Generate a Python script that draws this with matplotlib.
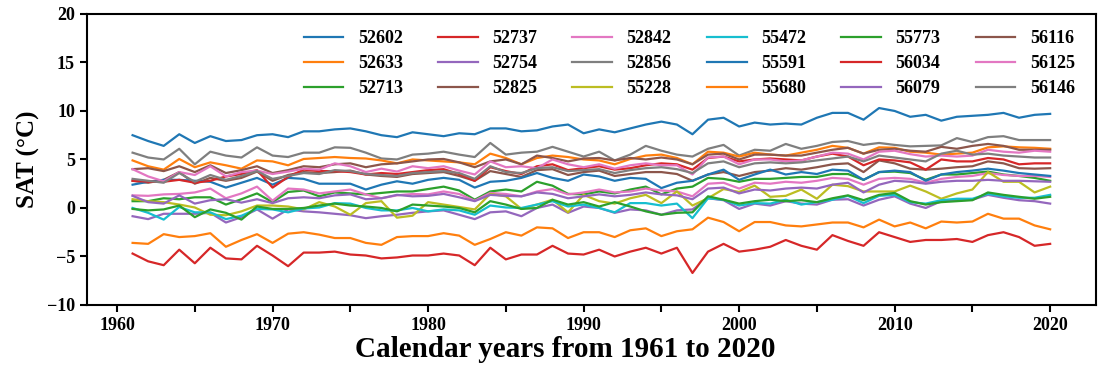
import numpy as np
import matplotlib
matplotlib.use('Agg')
import matplotlib.pyplot as plt
from matplotlib.ticker import MultipleLocator

plt.rcParams['font.family'] = ['Liberation Serif', 'DejaVu Serif']
plt.rcParams['font.weight'] = 'bold'

years = list(range(1961, 2021))

stations = ['52602', '52633', '52713', '52737', '52754', '52825', '52842', '52856', '55228',
            '55472', '55591', '55680', '55773', '56034', '56079', '56116', '56125', '56146']

s52602 = [7.5, 6.9, 6.4, 7.6, 6.7, 7.4, 6.9, 7.0, 7.5, 7.6,
          7.3, 7.9, 7.9, 8.1, 8.2, 7.9, 7.5, 7.3, 7.8, 7.6,
          7.4, 7.7, 7.6, 8.2, 8.2, 7.9, 8.0, 8.4, 8.6, 7.7,
          8.1, 7.8, 8.2, 8.6, 8.9, 8.6, 7.6, 9.1, 9.3, 8.4,
          8.8, 8.6, 8.7, 8.6, 9.3, 9.8, 9.8, 9.1, 10.3, 10.0,
          9.4, 9.6, 9.0, 9.4, 9.5, 9.6, 9.8, 9.3, 9.6, 9.7]
s52633 = [-3.6, -3.7, -2.7, -3.0, -2.9, -2.6, -4.0, -3.3, -2.7, -3.6,
          -2.65, -2.5, -2.75, -3.1, -3.1, -3.6, -3.8, -3.0, -2.9, -2.9,
          -2.6, -2.85, -3.8, -3.2, -2.5, -2.85, -2.0, -2.1, -3.1, -2.5,
          -2.5, -3.0, -2.3, -2.1, -2.9, -2.4, -2.2, -1.0, -1.45, -2.4,
          -1.45, -1.45, -1.8, -1.9, -1.7, -1.5, -1.5, -2.0, -1.2, -1.9,
          -1.5, -2.1, -1.4, -1.5, -1.4, -0.6, -1.1, -1.1, -1.8, -2.2]
s52713 = [0.7, 0.7, 1.0, 0.9, 1.1, 1.1, 0.35, 0.9, 1.5, 0.6,
          1.65, 1.8, 1.2, 1.6, 1.5, 1.4, 1.55, 1.7, 1.7, 1.95,
          2.2, 1.8, 0.85, 1.7, 1.9, 1.7, 2.7, 2.3, 1.45, 1.4,
          1.7, 1.5, 1.9, 2.2, 1.4, 2.0, 2.2, 3.1, 3.0, 2.7,
          3.0, 3.0, 3.1, 3.2, 3.2, 3.5, 3.5, 2.9, 3.7, 3.75,
          3.6, 2.9, 3.45, 3.45, 3.6, 3.75, 3.45, 3.3, 3.1, 2.8]
s52737 = [-4.7, -5.5, -5.9, -4.3, -5.7, -4.1, -5.2, -5.3, -3.9, -4.9,
          -6.0, -4.6, -4.6, -4.5, -4.8, -4.9, -5.2, -5.1, -4.9, -4.9,
          -4.7, -4.9, -5.9, -4.1, -5.3, -4.8, -4.8, -3.9, -4.7, -4.8,
          -4.3, -5.0, -4.5, -4.1, -4.7, -4.1, -6.7, -4.5, -3.7, -4.5,
          -4.3, -4.0, -3.3, -3.9, -4.3, -2.8, -3.4, -3.9, -2.5, -3.0,
          -3.5, -3.3, -3.3, -3.2, -3.5, -2.8, -2.5, -3.0, -3.9, -3.7]
s52754 = [-0.85, -1.15, -0.6, -0.6, -0.6, -0.5, -1.5, -0.95, -0.15, -1.1,
          -0.15, -0.35, -0.45, -0.6, -0.75, -1.05, -0.85, -0.7, -0.5, -0.35,
          -0.25, -0.7, -1.15, -0.45, -0.35, -0.85, 0.0, 0.35, -0.5, 0.15,
          0.0, -0.5, -0.15, -0.25, -0.7, -0.25, -0.15, 1.0, 0.8, -0.1,
          0.45, 0.25, 0.7, 0.45, 0.35, 0.85, 0.9, 0.25, 0.85, 1.2,
          0.45, 0.0, 0.7, 0.8, 0.85, 1.35, 1.05, 0.8, 0.7, 0.45]
s52825 = [2.8, 2.6, 2.9, 3.7, 2.5, 3.1, 2.8, 3.1, 3.75, 2.8,
          3.4, 3.7, 3.6, 3.7, 3.85, 3.45, 3.3, 3.2, 3.5, 3.6,
          3.7, 3.3, 2.8, 3.8, 3.5, 3.2, 3.9, 4.0, 3.4, 3.7,
          3.85, 3.3, 3.5, 3.7, 3.7, 3.5, 2.8, 3.45, 3.7, 3.3,
          3.7, 3.85, 4.1, 3.95, 4.2, 4.5, 4.6, 3.7, 4.9, 4.6,
          4.05, 3.95, 4.05, 4.2, 4.3, 4.8, 4.6, 4.1, 4.05, 4.1]
s52842 = [1.3, 1.25, 1.4, 1.45, 1.6, 2.0, 1.0, 1.5, 2.2, 0.75,
          2.0, 1.9, 1.5, 1.7, 1.9, 1.4, 1.0, 1.3, 1.44, 1.4,
          1.7, 1.44, 0.75, 1.55, 1.44, 1.2, 1.7, 1.95, 1.4, 1.6,
          1.9, 1.6, 1.7, 2.0, 1.8, 1.7, 1.2, 2.5, 2.6, 2.0,
          2.6, 2.5, 2.7, 2.6, 2.8, 3.1, 3.0, 2.4, 3.0, 3.1,
          3.0, 2.6, 3.0, 3.2, 3.3, 3.6, 3.4, 3.3, 3.3, 3.2]
s52856 = [5.7, 5.2, 5.0, 6.1, 4.5, 5.8, 5.4, 5.2, 6.25, 5.4,
          5.25, 5.7, 5.7, 6.25, 6.2, 5.7, 5.1, 5.0, 5.5, 5.6,
          5.8, 5.5, 5.25, 6.7, 5.5, 5.7, 5.8, 6.3, 5.8, 5.3,
          5.8, 4.9, 5.5, 6.4, 5.9, 5.5, 5.3, 6.1, 6.5, 5.4,
          6.0, 5.9, 6.6, 6.1, 6.4, 6.8, 6.9, 6.5, 6.7, 6.5,
          6.35, 6.4, 6.45, 7.2, 6.8, 7.3, 7.4, 7.0, 7.0, 7.0]
s55228 = [0.9, 0.7, 0.6, 0.35, 0.05, -0.7, -0.75, -0.35, 0.25, 0.25,
          0.15, -0.15, 0.6, 0.15, -0.7, 0.5, 0.7, -1.0, -0.8, 0.6,
          0.35, 0.1, -0.15, 1.45, 1.2, -0.1, 0.35, 0.85, -0.45, 1.35,
          0.7, 0.45, 1.0, 1.35, 0.5, 1.7, 0.25, 1.0, 1.95, 1.65,
          2.3, 1.15, 1.25, 1.9, 0.95, 2.4, 2.25, 1.7, 1.7, 1.7,
          2.3, 1.7, 0.95, 1.5, 1.9, 3.7, 2.7, 2.7, 1.6, 2.2]
s55472 = [0.0, -0.5, -1.2, 0.1, -0.45, -0.45, -1.15, -0.8, -0.1, -0.15,
          -0.45, -0.05, 0.05, 0.5, 0.45, 0.0, -0.25, -0.25, 0.0, -0.35,
          -0.15, -0.25, -0.7, 0.25, 0.05, 0.0, 0.35, 0.7, 0.15, 0.35,
          0.0, -0.45, 0.5, 0.5, 0.25, 0.45, -1.05, 1.0, 0.85, 0.25,
          0.5, 0.45, 0.85, 0.35, 0.6, 0.85, 1.25, 0.5, 1.25, 1.35,
          0.6, 0.45, 0.8, 0.95, 0.95, 1.45, 1.2, 1.05, 1.05, 1.35]
s55591 = [2.4, 2.7, 2.9, 2.9, 2.8, 2.7, 2.1, 2.6, 3.1, 2.4,
          3.1, 3.0, 2.5, 2.5, 2.5, 1.9, 2.4, 2.75, 2.5, 2.9,
          3.1, 2.9, 2.1, 2.7, 2.8, 3.1, 3.6, 3.1, 2.8, 3.45,
          3.25, 2.8, 3.1, 3.0, 2.05, 2.6, 2.8, 3.45, 3.95, 2.9,
          3.45, 3.95, 3.45, 3.7, 3.5, 3.95, 3.85, 2.9, 3.7, 3.85,
          3.7, 2.8, 3.45, 3.7, 3.85, 4.05, 3.85, 3.6, 3.45, 3.3]
s55680 = [4.9, 4.3, 3.95, 5.05, 4.2, 4.7, 4.4, 4.05, 4.9, 4.8,
          4.4, 5.05, 5.15, 5.25, 5.15, 5.1, 4.9, 4.6, 5.0, 4.9,
          4.8, 4.7, 4.5, 5.6, 5.15, 4.5, 5.15, 5.4, 5.25, 5.0,
          4.9, 4.5, 5.05, 5.4, 5.5, 5.15, 4.5, 5.8, 5.7, 5.3,
          5.7, 5.5, 5.4, 5.7, 6.0, 6.4, 6.2, 5.6, 6.25, 6.2,
          5.8, 5.7, 5.5, 5.6, 5.7, 6.25, 6.35, 6.25, 6.2, 6.1]
s55773 = [-0.1, -0.25, -0.15, 0.25, -0.95, -0.15, -0.5, -1.2, 0.15, -0.1,
          -0.1, 0.0, 0.25, 0.45, 0.25, 0.15, 0.0, -0.35, 0.35, 0.25,
          0.15, 0.0, -0.45, 0.7, 0.35, -0.1, 0.0, 0.85, 0.35, 0.6,
          0.15, 0.6, 0.15, -0.35, -0.7, -0.5, -0.45, 1.2, 0.85, 0.45,
          0.7, 0.85, 0.7, 0.8, 0.6, 1.0, 1.3, 0.8, 1.35, 1.55,
          0.7, 0.35, 0.6, 0.7, 0.8, 1.6, 1.35, 1.15, 0.95, 1.15]
s56034 = [2.8, 2.7, 2.7, 2.9, 2.6, 2.8, 3.25, 3.5, 3.9, 2.1,
          3.2, 3.95, 3.8, 3.8, 3.7, 3.45, 3.6, 3.5, 3.7, 3.9,
          4.0, 3.5, 2.8, 4.2, 3.8, 3.5, 4.3, 4.5, 3.9, 4.1,
          4.3, 3.95, 4.1, 4.4, 4.6, 4.5, 3.95, 5.15, 5.3, 4.8,
          5.0, 5.1, 5.0, 4.9, 5.3, 5.6, 5.3, 4.4, 5.0, 4.9,
          4.7, 3.95, 5.0, 4.8, 4.8, 5.15, 5.0, 4.5, 4.6, 4.6]
s56079 = [1.25, 0.6, 0.45, 1.3, 0.45, 0.8, 0.9, 0.55, 0.9, 0.5,
          1.0, 1.1, 1.0, 1.3, 1.4, 0.9, 1.0, 1.35, 1.2, 1.25,
          1.45, 1.1, 0.7, 1.35, 1.25, 1.2, 1.6, 1.45, 1.0, 1.2,
          1.4, 1.2, 1.35, 1.6, 1.4, 1.3, 0.9, 2.0, 2.1, 1.5,
          1.9, 1.8, 2.0, 2.1, 2.0, 2.4, 2.6, 1.6, 2.4, 2.8,
          2.7, 2.5, 2.7, 2.8, 2.8, 2.9, 2.8, 2.8, 2.75, 2.7]
s56116 = [4.0, 4.1, 3.8, 4.3, 3.7, 4.4, 3.6, 3.9, 4.3, 3.6,
          3.9, 4.3, 4.2, 4.5, 4.6, 4.2, 4.5, 4.6, 4.8, 5.0,
          5.05, 4.7, 4.2, 4.8, 5.0, 4.5, 5.4, 5.15, 4.8, 5.1,
          5.15, 4.9, 5.15, 5.0, 5.2, 5.0, 4.5, 5.5, 5.6, 5.0,
          5.5, 5.5, 5.4, 5.4, 5.7, 6.0, 6.2, 5.6, 6.0, 6.1,
          5.9, 5.8, 6.3, 6.1, 6.4, 6.6, 6.4, 6.0, 6.0, 6.0]
s56125 = [4.0, 3.25, 2.75, 3.7, 3.4, 4.3, 3.25, 3.7, 3.85, 3.5,
          3.75, 4.05, 3.95, 4.6, 4.3, 3.7, 4.05, 3.75, 4.3, 4.1,
          4.3, 3.85, 3.45, 4.8, 4.2, 4.3, 4.1, 5.0, 4.5, 4.2,
          4.5, 4.05, 4.4, 4.6, 4.4, 4.4, 3.45, 5.2, 5.3, 4.5,
          5.0, 5.0, 4.8, 4.9, 5.3, 5.7, 5.6, 5.0, 5.8, 5.9,
          5.55, 5.3, 5.4, 5.3, 5.4, 6.0, 5.8, 5.7, 5.9, 5.8]
s56146 = [3.0, 2.8, 2.6, 3.6, 2.7, 3.4, 2.9, 3.3, 3.8, 3.0,
          3.3, 3.6, 3.5, 3.9, 3.8, 3.5, 3.4, 3.3, 3.6, 3.7,
          3.8, 3.6, 3.0, 4.3, 3.7, 3.6, 4.1, 4.2, 3.8, 3.9,
          4.0, 3.6, 3.9, 4.1, 4.2, 4.0, 3.6, 4.6, 4.8, 4.2,
          4.6, 4.7, 4.6, 4.7, 4.9, 5.1, 5.3, 4.8, 5.4, 5.2,
          5.0, 4.8, 5.6, 5.9, 5.5, 5.6, 5.4, 5.3, 5.2, 5.2]

series = [s52602, s52633, s52713, s52737, s52754, s52825, s52842, s52856, s55228,
          s55472, s55591, s55680, s55773, s56034, s56079, s56116, s56125, s56146]

fig = plt.figure(figsize=(10.99, 3.67), dpi=100)
ax = fig.add_axes([0.0789, 0.169, 0.9184, 0.793])

for name, vals in zip(stations, series):
    ax.plot(years, vals, lw=1.6, label=name)

ax.set_ylim(-10, 20)
ax.set_xlim(1958.05, 2022.95)
ax.xaxis.set_major_locator(MultipleLocator(10))
ax.xaxis.set_minor_locator(MultipleLocator(5))
ax.yaxis.set_major_locator(MultipleLocator(5))
ax.tick_params(axis='both', which='both', direction='out', length=5, width=1.5, labelsize=13)
for sp in ax.spines.values():
    sp.set_linewidth(1.5)

yt = ax.get_yticks()
ax.set_yticks(yt)
ax.set_yticklabels([('\u2212' if v < 0 else '') + str(int(abs(v))) for v in yt])
ax.set_ylim(-10, 20)

ax.set_xlabel('Calendar years from 1961 to 2020', fontsize=21, fontweight='bold')
ax.xaxis.set_label_coords(0.474, -0.105)
ax.set_ylabel('SAT (\u00b0C)', fontsize=18, fontweight='bold', labelpad=5)

ax.legend(loc='upper right', bbox_to_anchor=(0.995, 1.0), ncol=6, frameon=False, fontsize=13,
          handlelength=2.2, handletextpad=0.8, columnspacing=1.95, labelspacing=0.45)

fig.savefig('out.png', dpi=100)
